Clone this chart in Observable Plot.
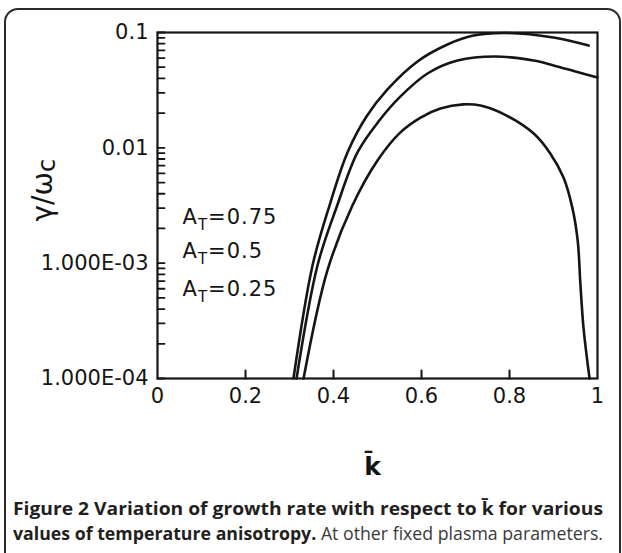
<!DOCTYPE html>
<html>
<head>
<meta charset="utf-8">
<script src="https://cdn.jsdelivr.net/npm/d3@7"></script>
<script src="https://cdn.jsdelivr.net/npm/@observablehq/plot@0.6"></script>
<style>
  body { margin: 0; background: #fff; width: 622px; height: 553px; overflow: hidden; position: relative; }
  #box { position: absolute; left: 4px; top: 8px; width: 613px; height: 600px; border: 2px solid #2b2b2b; border-radius: 14px; }
  #chart { position: absolute; left: 0; top: 0; }
  #cap { position: absolute; left: 13px; top: 496px; font-family: "Open Sans", "Noto Sans", sans-serif; font-size: 18px; line-height: 25px; color: #231f20; }
  #cap .ln { white-space: nowrap; display: inline-block; transform-origin: 0 50%; }
  #cap .rest { font-weight: normal; color: #3a3a3a; }
</style>
</head>
<body>
<div id="box"></div>
<div id="chart"></div>
<div id="cap">
  <div><span class="ln"><b>Figure 2 Variation of growth rate with respect to k&#x0304; for various</b></span></div>
  <div><span class="ln"><b>values of temperature anisotropy.</b> <span class="rest">At other fixed plasma parameters.</span></span></div>
</div>
<script>
// ---- data ----
const seriesNames = ["A_T=0.75", "A_T=0.5", "A_T=0.25"];

const k075 = [0.309, 0.3523, 0.3909, 0.4318, 0.475, 0.5227, 0.5909, 0.659, 0.718, 0.791, 0.9, 0.98];
const g075 = [1e-4, 9.55e-4, 3.16e-3, 9.12e-3, 0.0187, 0.0321, 0.0561, 0.0787, 0.094, 0.099, 0.0905, 0.077];

const k050 = [0.316, 0.3636, 0.4068, 0.4545, 0.5023, 0.5523, 0.6136, 0.6818, 0.768, 0.855, 0.9, 0.95, 1.0];
const g050 = [1e-4, 9.55e-4, 3.04e-3, 9.12e-3, 0.0169, 0.0279, 0.0441, 0.0571, 0.0619, 0.0571, 0.0518, 0.0459, 0.0407];

const k025 = [0.332, 0.386, 0.443, 0.5, 0.552, 0.598, 0.643, 0.695, 0.734, 0.78, 0.855, 0.893, 0.923, 0.943, 0.955, 0.961, 0.968, 0.977, 0.982];
const g025 = [1e-4, 8.6e-4, 3.16e-3, 7.76e-3, 0.0136, 0.0183, 0.0219, 0.0238, 0.0233, 0.0202, 0.0133, 0.0089, 0.0055, 0.0030, 0.00157, 6.7e-4, 2.8e-4, 1.4e-4, 1e-4];

const xTicks = [0, 0.2, 0.4, 0.6, 0.8, 1];
const xTickLabels = ["0", "0.2", "0.4", "0.6", "0.8", "1"];
const xInnerTicks = [0.2, 0.4, 0.6, 0.8];
const yTicks = [1e-4, 1e-3, 1e-2, 1e-1];
const yTickLabels = ["1.000E-04", "1.000E-03", "0.01", "0.1"];
const yMinorTicks = [];
for (const e of [-4, -3, -2]) for (let m = 1; m <= 9; m++) yMinorTicks.push(+(m * Math.pow(10, e)).toPrecision(3));
yMinorTicks.push(0.1);

const rows = [
  ...k075.map((k, i) => ({series: seriesNames[0], k, g: g075[i]})),
  ...k050.map((k, i) => ({series: seriesNames[1], k, g: g050[i]})),
  ...k025.map((k, i) => ({series: seriesNames[2], k, g: g025[i]}))
];

const ink = "#151515";
const tickShape = {draw(context, l) { context.moveTo(0, 0); context.lineTo(0, -l); }};

const chart = Plot.plot({
  width: 622,
  height: 490,
  marginLeft: 157,
  marginRight: 25,
  marginTop: 32,
  marginBottom: 112,
  style: {fontFamily: "DejaVu Sans", fontSize: "21px", color: ink, background: "transparent", overflow: "visible"},
  x: {domain: [0, 1]},
  y: {type: "log", domain: [1e-4, 0.1]},
  marks: [
    Plot.line(rows, {x: "k", y: "g", z: "series", stroke: ink, strokeWidth: 2.6, curve: "catmull-rom"}),
    Plot.frame({stroke: ink, strokeWidth: 2.2}),
    // inward ticks
    Plot.vector(yMinorTicks, {y: d => d, frameAnchor: "left", rotate: 90, length: 7, anchor: "start", shape: tickShape, stroke: ink, strokeWidth: 1.8}),
    Plot.vector(xInnerTicks, {x: d => d, frameAnchor: "bottom", rotate: 0, length: 8, anchor: "start", shape: tickShape, stroke: ink, strokeWidth: 2}),
    // tick labels
    Plot.axisY(yTicks, {tickSize: 0, tickPadding: 9, tickFormat: d => yTickLabels[yTicks.indexOf(d)], label: null, fill: ink, letterSpacing: "1px"}),
    Plot.axisX(xTicks, {tickSize: 0, tickPadding: 10, tickFormat: d => xTickLabels[xTicks.indexOf(d)], label: null, fill: ink, letterSpacing: "1px"}),
    // legend labels
    Plot.text([seriesNames[0]], {frameAnchor: "top-left", dx: 25, dy: 185, text: d => d, textAnchor: "start", lineAnchor: "middle", fill: ink}),
    Plot.text([seriesNames[1]], {frameAnchor: "top-left", dx: 25, dy: 219, text: d => d, textAnchor: "start", lineAnchor: "middle", fill: ink}),
    Plot.text([seriesNames[2]], {frameAnchor: "top-left", dx: 25, dy: 257, text: d => d, textAnchor: "start", lineAnchor: "middle", fill: ink}),
    // axis titles
    Plot.text(["γ/ωc"], {frameAnchor: "left", dx: -114, dy: 16, rotate: -90, text: d => d, fontSize: 28, lineAnchor: "middle", fill: ink}),
    Plot.text(["k\u0304"], {frameAnchor: "bottom", dx: -5, dy: 88, text: d => d, fontSize: 25, fontWeight: "bold", lineAnchor: "middle", fill: ink})
  ]
});
document.getElementById("chart").appendChild(chart);

// subscripts
const NS = "http://www.w3.org/2000/svg";
chart.querySelectorAll("text").forEach(t => {
  const s = t.textContent;
  let m = s.match(/^A_T(=.*)$/);
  if (m) {
    t.textContent = "A";
    t.setAttribute("letter-spacing", "1px");
    const sub = document.createElementNS(NS, "tspan");
    sub.setAttribute("dy", "6"); sub.setAttribute("font-size", "15"); sub.textContent = "T";
    const rest = document.createElementNS(NS, "tspan");
    rest.setAttribute("dy", "-6"); rest.textContent = m[1];
    t.appendChild(sub); t.appendChild(rest);
  } else if (s === "γ/ωc") {
    t.textContent = "γ/ω";
    const sub = document.createElementNS(NS, "tspan");
    sub.setAttribute("dy", "3"); sub.setAttribute("font-size", "24"); sub.textContent = "c";
    t.appendChild(sub);
  }
});

// fit caption lines to the reference width
document.querySelectorAll("#cap .ln").forEach(el => {
  const w = el.getBoundingClientRect().width;
  el.style.transform = `scaleX(${590 / w})`;
});
</script>
</body>
</html>
